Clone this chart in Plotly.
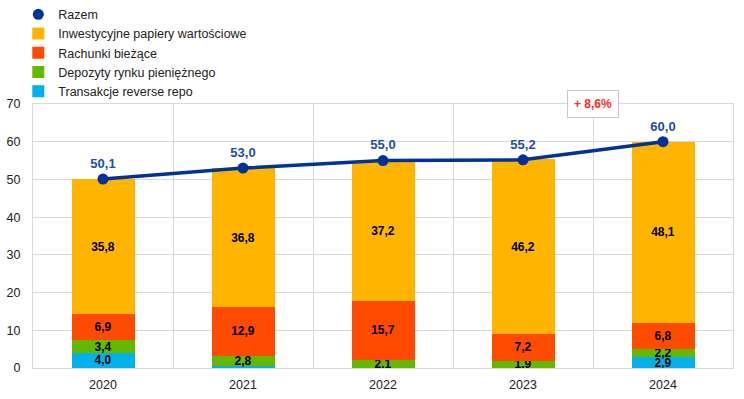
import plotly.graph_objects as go

years = ["2020", "2021", "2022", "2023", "2024"]
razem = [50.1, 53.0, 55.0, 55.2, 60.0]
inwestycyjne = [35.8, 36.8, 37.2, 46.2, 48.1]
rachunki = [6.9, 12.9, 15.7, 7.2, 6.8]
depozyty = [3.4, 2.8, 2.1, 1.9, 2.2]
reverse_repo = [4.0, 0.5, 0.0, 0.0, 2.9]
change_label = "+ 8,6%"
y_ticks = [0, 10, 20, 30, 40, 50, 60, 70]

x = list(range(len(years)))
FONT = "Liberation Sans, Arial, sans-serif"
GRID = "#d9d9d9"


def fmt(v):
    return f"{v:.1f}".replace(".", ",")


def labels(vals):
    return [fmt(v) if v >= 1 else "" for v in vals]


fig = go.Figure()

bars = [
    ("Transakcje reverse repo", reverse_repo, "#00b1ea", 5),
    ("Depozyty rynku pieniężnego", depozyty, "#65b800", 4),
    ("Rachunki bieżące", rachunki, "#ff4b00", 3),
    ("Inwestycyjne papiery wartościowe", inwestycyjne, "#ffb400", 2),
]
for name, vals, color, rank in bars:
    fig.add_trace(go.Bar(
        x=x, y=vals, name=name, marker=dict(color=color, line=dict(width=0)),
        width=0.45, text=labels(vals), textposition="inside", textangle=0,
        insidetextanchor="middle",
        textfont=dict(family=FONT, size=12, color="black", weight="bold"),
        legendrank=rank, hoverinfo="skip",
    ))

fig.add_trace(go.Scatter(
    x=x, y=razem, name="Razem", mode="lines+markers+text",
    line=dict(color="#003299", width=3.5),
    marker=dict(color="#003299", size=11),
    text=[fmt(v) for v in razem], textposition="top center",
    textfont=dict(family=FONT, size=13, color="#1f4ea8", weight="bold"),
    showlegend=False, cliponaxis=False,
))
# legend entry for the total (dot only)
fig.add_trace(go.Scatter(
    x=[None], y=[None], name="Razem", mode="markers",
    marker=dict(color="#003299", size=11), legendrank=1,
))

fig.add_annotation(
    x=3.5, y=70, xref="x", yref="y", text=change_label, showarrow=False,
    font=dict(family=FONT, size=12, color="#ff2a2a", weight="bold"),
    bgcolor="white", bordercolor="#c8c8c8", borderwidth=1, borderpad=6,
)

fig.update_layout(
    width=744, height=399,
    margin=dict(l=33, r=11, t=104, b=31, autoexpand=False),
    barmode="stack",
    plot_bgcolor="white", paper_bgcolor="white",
    font=dict(family=FONT, size=12.5, color="#222222"),
    uniformtext=dict(minsize=12, mode="show"),
    legend=dict(
        x=-0.021, y=1.395, xanchor="left", yanchor="top",
        traceorder="normal", font=dict(family=FONT, size=12.5, color="#222222"),
        bgcolor="rgba(0,0,0,0)", itemwidth=30, tracegroupgap=0,
    ),
    showlegend=True,
)
fig.update_xaxes(
    range=[-0.5, 4.5], tickvals=x, ticktext=years, showgrid=False,
    showline=True, linecolor=GRID, mirror=True, ticks="",
    minor=dict(tick0=0.5, dtick=1, showgrid=True, gridcolor=GRID, ticks=""),
    zeroline=False, fixedrange=True, ticklabelstandoff=5,
)
fig.update_yaxes(
    range=[0, 70], tickvals=y_ticks, showgrid=True, gridcolor=GRID,
    showline=True, linecolor=GRID, mirror=True, ticks="", zeroline=False,
    fixedrange=True, ticklabelstandoff=9,
)

fig.write_html("out.html", config={"displayModeBar": False},
               post_script="document.body.style.margin='0px';")
